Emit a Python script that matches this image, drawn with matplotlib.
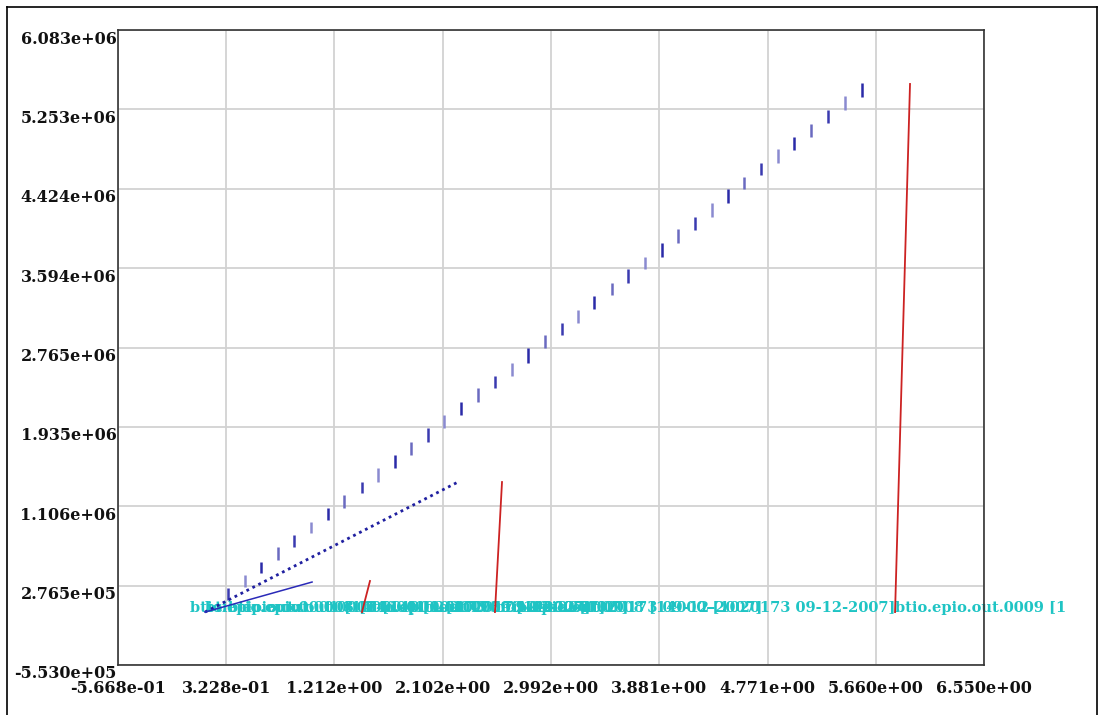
import matplotlib
matplotlib.use("Agg")
import matplotlib.pyplot as plt
from matplotlib.lines import Line2D
from matplotlib.transforms import ScaledTranslation

# ---------------- data ----------------
x_ticks = [-0.5668, 0.3228, 1.212, 2.102, 2.992, 3.881, 4.771, 5.660, 6.550]
x_tick_labels = ["-5.668e-01", "3.228e-01", "1.212e+00", "2.102e+00", "2.992e+00",
                 "3.881e+00", "4.771e+00", "5.660e+00", "6.550e+00"]
y_ticks = [-5.530e5, 2.765e5, 1.106e6, 1.935e6, 2.765e6, 3.594e6, 4.424e6, 5.253e6, 6.083e6]
y_tick_labels = ["-5.530e+05", "2.765e+05", "1.106e+06", "1.935e+06", "2.765e+06",
                 "3.594e+06", "4.424e+06", "5.253e+06", "6.083e+06"]

# staircase series (short vertical segments)
seg_x = [0.337, 0.477, 0.608, 0.748, 0.880, 1.019, 1.159, 1.291, 1.438, 1.570,
         1.710, 1.841, 1.981, 2.112, 2.252, 2.392, 2.531, 2.671, 2.803, 2.942,
         3.082, 3.214, 3.345, 3.493, 3.624, 3.764, 3.904, 4.035, 4.175, 4.315,
         4.446, 4.578, 4.717, 4.857, 4.989, 5.128, 5.268, 5.408, 5.547]
seg_lo = [0.126e6, 0.262e6, 0.408e6, 0.544e6, 0.680e6, 0.826e6, 0.962e6, 1.087e6, 1.244e6, 1.359e6,
          1.505e6, 1.641e6, 1.777e6, 1.923e6, 2.059e6, 2.195e6, 2.342e6, 2.467e6, 2.603e6, 2.760e6,
          2.895e6, 3.021e6, 3.167e6, 3.313e6, 3.439e6, 3.585e6, 3.711e6, 3.857e6, 3.993e6, 4.129e6,
          4.275e6, 4.421e6, 4.568e6, 4.693e6, 4.829e6, 4.965e6, 5.111e6, 5.247e6, 5.383e6]
seg_hi = [0.251e6, 0.387e6, 0.523e6, 0.680e6, 0.805e6, 0.941e6, 1.087e6, 1.223e6, 1.359e6, 1.505e6,
          1.641e6, 1.777e6, 1.923e6, 2.059e6, 2.195e6, 2.342e6, 2.467e6, 2.603e6, 2.760e6, 2.895e6,
          3.021e6, 3.157e6, 3.303e6, 3.439e6, 3.585e6, 3.711e6, 3.857e6, 4.003e6, 4.129e6, 4.275e6,
          4.421e6, 4.547e6, 4.693e6, 4.839e6, 4.965e6, 5.101e6, 5.247e6, 5.393e6, 5.529e6]

# dotted blue series
dot_x = [0.148, 2.227]
dot_y = [0.0, 1.359e6]
# solid blue series
blue_x = [0.148, 1.028]
blue_y = [0.0, 0.314e6]
# red series
red1_x = [1.438, 1.504]
red1_y = [0.0, 0.325e6]
red2_x = [2.531, 2.589]
red2_y = [0.0, 1.359e6]
red3_x = [5.819, 5.942]
red3_y = [0.0, 5.519e6]

# series labels (drawn at each series start)
label_x = [0.025, 0.148, 0.337, 1.438, 2.531, 5.819]
label_text = [
    "btio.epio.out.0001 [14000-[1020173 09-12-2007]",
    "btio.epio.out.0003 [14000-[1020173 09-12-2007]",
    "btio.epio.out.0005 [14000-[1020173 09-12-2007]",
    "btio.epio.out.0006 [14000-[1020173 09-12-2007]",
    "btio.epio.out.0008 [14000-[1020173 09-12-2007]",
    "btio.epio.out.0009 [1",
]

# ---------------- figure ----------------
fig = plt.figure(figsize=(11.03, 7.15), dpi=100)
fig.patch.set_facecolor("white")
ax = fig.add_axes([118 / 1103, 1 - 665 / 715, (984 - 118) / 1103, (665 - 30) / 715])

ax.set_xlim(x_ticks[0], x_ticks[-1])
ax.set_ylim(y_ticks[0], y_ticks[-1])

ax.set_xticks(x_ticks)
ax.set_xticklabels(x_tick_labels)
ax.set_yticks(y_ticks)
ax.set_yticklabels(y_tick_labels)
ax.grid(True, color="#d2d2d2", lw=1.3, zorder=0)
ax.set_axisbelow(True)

for lab in ax.get_xticklabels() + ax.get_yticklabels():
    lab.set_family("DejaVu Serif")
    lab.set_fontweight("bold")
    lab.set_fontsize(11.5)
    lab.set_color("#111111")
ax.tick_params(axis="both", length=0)
ax.tick_params(axis="y", pad=1)
ax.tick_params(axis="x", pad=11)
for lab in ax.get_yticklabels():
    lab.set_transform(lab.get_transform() + ScaledTranslation(0, -7 / 100, fig.dpi_scale_trans))

for sp in ax.spines.values():
    sp.set_color("#333333")
    sp.set_linewidth(1.2)

# labels
for lx, lt in zip(label_x, label_text):
    ax.text(lx, 0.0, lt, color="#1fc4c4", fontsize=10.5, fontweight="bold",
            family="DejaVu Serif", ha="left", va="baseline", zorder=1, clip_on=False)

# series
seg_colors = ["#3a3ab0", "#8a8ad0", "#2a2aa8", "#6a6ac0"]
cols = [seg_colors[i % len(seg_colors)] for i in range(len(seg_x))]
ax.vlines(seg_x, seg_lo, seg_hi, colors=cols, lw=1.8, zorder=3)
ax.plot(dot_x, dot_y, color="#2020a0", lw=2, linestyle=(0, (1, 1.4)), zorder=3)
ax.plot(blue_x, blue_y, color="#2a2ab8", lw=1.1, zorder=3)
for rx, ry in [(red1_x, red1_y), (red2_x, red2_y), (red3_x, red3_y)]:
    ax.plot(rx, ry, color="#cc2222", lw=1.3, zorder=3)

# outer frame
fl, fr, ft = 7 / 1103, 1097 / 1103, 1 - 7 / 715
for xs, ys in [([fl, fl], [0, ft]), ([fl, fr], [ft, ft]), ([fr, fr], [0, ft])]:
    fig.add_artist(Line2D(xs, ys, transform=fig.transFigure, color="black", lw=1.2))

fig.savefig("out.png", dpi=100, facecolor="white")
